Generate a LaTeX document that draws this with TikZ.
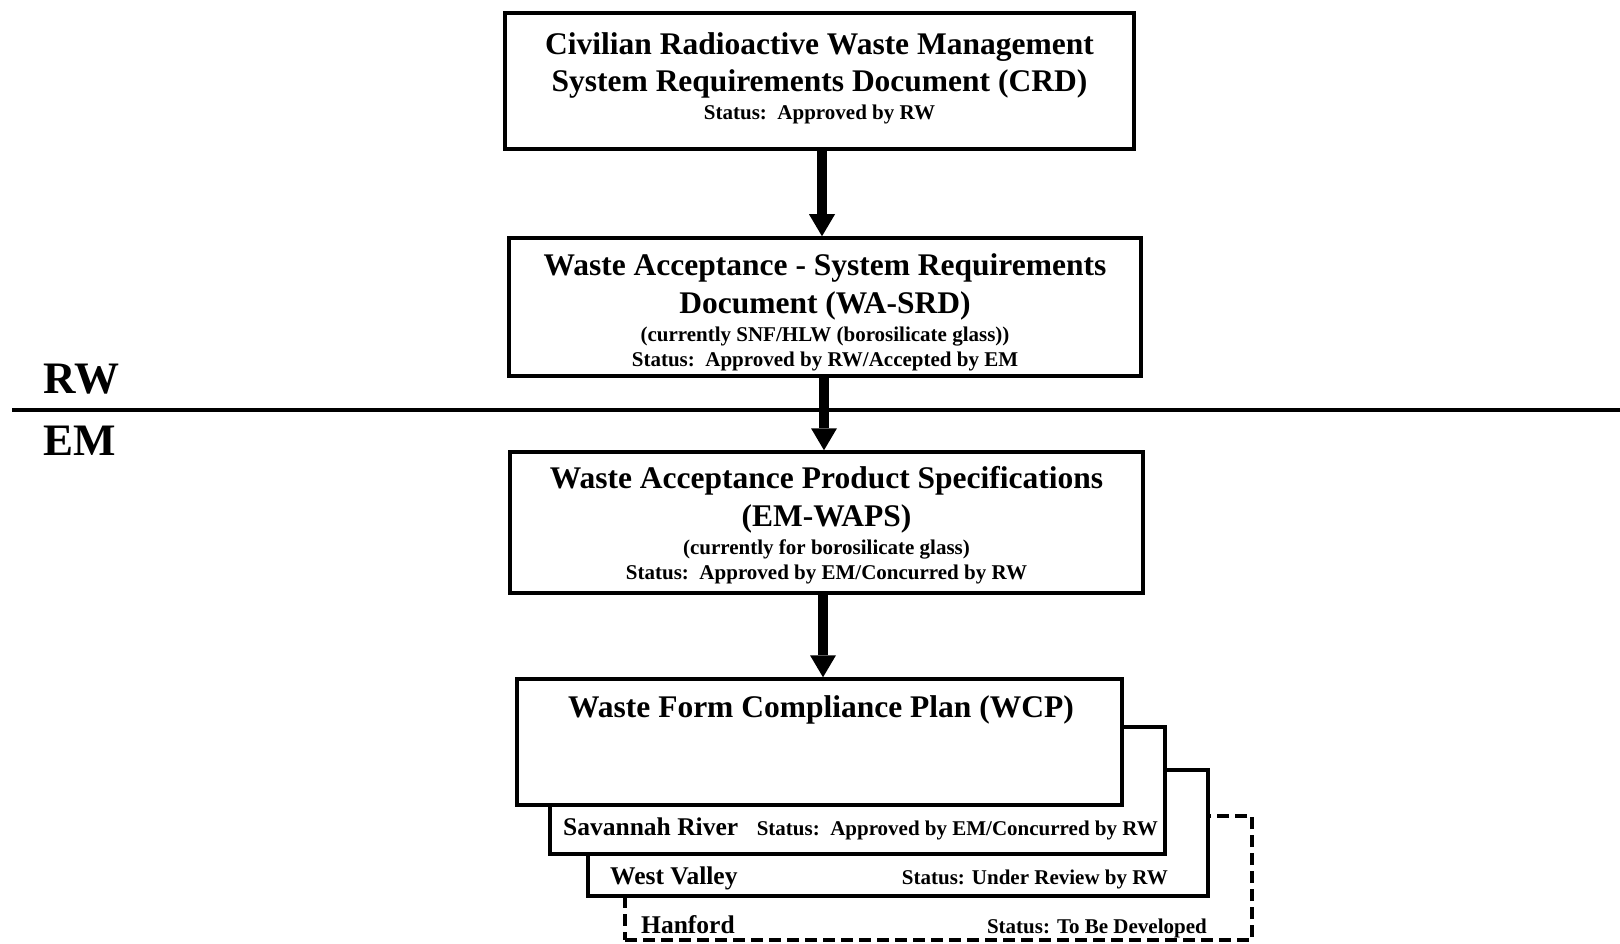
\documentclass[tikz,border=0pt]{standalone}
\usepackage{fontspec}
\setmainfont{Liberation Serif}
\usetikzlibrary{arrows.meta}
\begin{document}
\begin{tikzpicture}[x=1pt,y=-1pt,
 docbox/.style={draw, line width=3.5pt, fill=white, rectangle, inner sep=0pt},
 bigtext/.style={font=\fontsize{31.5}{37}\selectfont\bfseries, inner sep=0pt, anchor=base},
 smalltext/.style={font=\fontsize{21}{24}\selectfont\bfseries, inner sep=0pt, anchor=base},
 sitetext/.style={font=\fontsize{25.5}{28}\selectfont\bfseries, inner sep=0pt, anchor=base west},
 orglabel/.style={font=\fontsize{45}{50}\selectfont\bfseries, inner sep=0pt, anchor=base west},
 flowarrow/.style={line width=10pt, -{Triangle[width=26pt,length=22pt,line width=0pt]}},
 dividerline/.style={line width=3.5pt},
]
\useasboundingbox (0,0) rectangle (1620,944);

% divider
\coordinate (dl) at (12,410);
\coordinate (dr) at (1620,410);
\draw[dividerline] (dl) -- (dr);
\node[orglabel] (rw) at (43,393) {RW};
\node[orglabel] (em) at (43,455) {EM};

% CRD
\node[docbox, minimum width=629pt, minimum height=136pt] (crd) at (819.5,81) {};
\node[bigtext] (crd1) at (819.5,55) {Civilian Radioactive Waste Management};
\node[bigtext] (crd2) at (819.5,92) {System Requirements Document (CRD)};
\node[smalltext] (crd3) at (819.5,120) {Status:\ \ Approved by RW};

% WA-SRD
\node[docbox, minimum width=632pt, minimum height=138pt] (wa) at (825,307) {};
\node[bigtext] (wa1) at (825,276) {Waste Acceptance - System Requirements};
\node[bigtext] (wa2) at (825,313) {Document (WA-SRD)};
\node[smalltext] (wa3) at (825,341) {(currently SNF/HLW (borosilicate glass))};
\node[smalltext] (wa4) at (825,366) {Status:\ \ Approved by RW/Accepted by EM};

% WAPS
\node[docbox, minimum width=633pt, minimum height=141pt] (waps) at (826.5,522.5) {};
\node[bigtext] (waps1) at (826.5,488) {Waste Acceptance Product Specifications};
\node[bigtext] (waps2) at (826.5,526) {(EM-WAPS)};
\node[smalltext] (waps3) at (826.5,554) {(currently for borosilicate glass)};
\node[smalltext] (waps4) at (826.5,579) {Status:\ \ Approved by EM/Concurred by RW};

% stacked WCP boxes (back to front)
\node[docbox, dash pattern=on 12pt off 6pt, minimum width=627pt, minimum height=124pt] (han) at (938.5,878) {};
\node[sitetext] (hanN) at (641,933) {Hanford};
\node[smalltext, anchor=base east] (hanS) at (1207,933) {Status: To Be Developed};

\node[docbox, minimum width=620pt, minimum height=126pt] (wv) at (898,833) {};
\node[sitetext] (wvN) at (610,884) {West Valley};
\node[smalltext, anchor=base east] (wvS) at (1168,884) {Status: Under Review by RW};

\node[docbox, minimum width=615pt, minimum height=127pt] (sav) at (857.5,790.5) {};
\node[sitetext] (savN) at (563,835) {Savannah River};
\node[smalltext, anchor=base east] (savS) at (1158,835) {Status:\ \ Approved by EM/Concurred by RW};

\node[docbox, minimum width=605pt, minimum height=126pt] (wcp) at (819.5,742) {};
\node[bigtext] (wcp1) at (821,717) {Waste Form Compliance Plan (WCP)};

% arrows
\draw[flowarrow] ([xshift=2.5pt]crd.south) -- ([xshift=2.5pt]crd.south |- wa.north);
\draw[flowarrow] ([xshift=-1pt]wa.south) -- ([xshift=-1pt]wa.south |- waps.north);
\draw[flowarrow] ([xshift=-3.5pt]waps.south) -- ([xshift=-3.5pt]waps.south |- wcp.north);
\end{tikzpicture}
\end{document}
